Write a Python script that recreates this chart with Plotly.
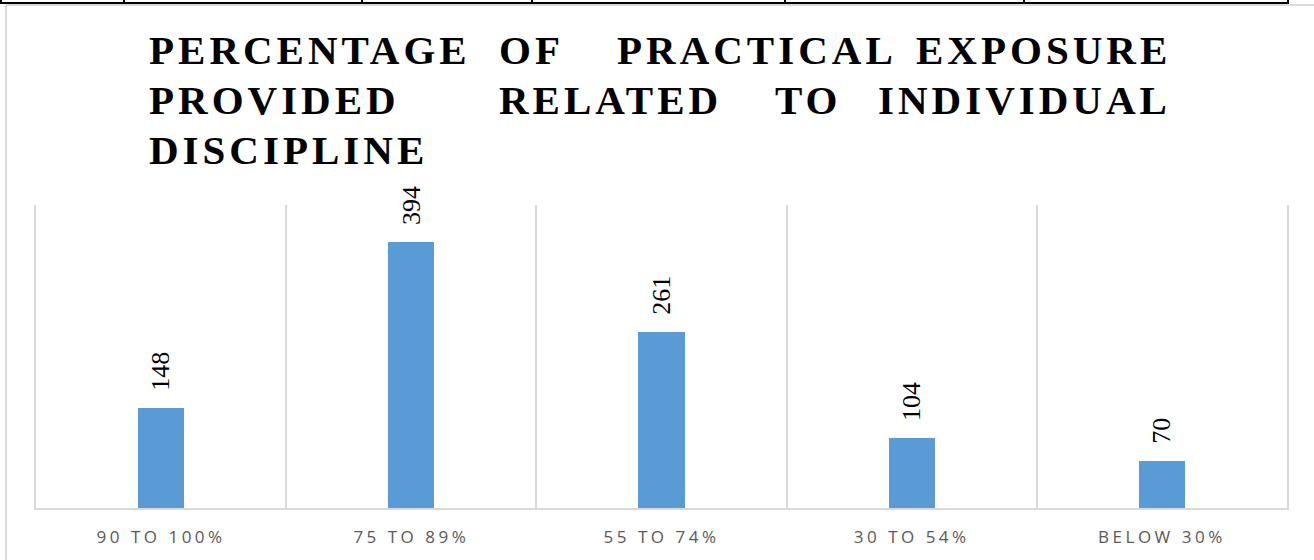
import plotly.graph_objects as go

# ---- data ----
categories = ["90 TO 100%", "75 TO 89%", "55 TO 74%", "30 TO 54%", "BELOW 30%"]
values = [148, 394, 261, 104, 70]
title_lines = [
    ["PERCENTAGE", "OF", "PRACTICAL", "EXPOSURE"],
    ["PROVIDED", "RELATED", "TO", "INDIVIDUAL"],
    ["DISCIPLINE"],
]

# ---- layout constants ----
W, H = 1314, 560
ML, MR, MT, MB = 36, 27, 205, 52
PW, PH = W - ML - MR, H - MT - MB


def px(x):
    return (x - ML) / PW


def py(y):
    return (H - MB - y) / PH


fig = go.Figure()
fig.add_trace(go.Bar(
    x=categories, y=values, width=0.184,
    marker=dict(color="#5b9bd5", line=dict(width=0)),
    hoverinfo="skip",
))

annotations = []
# data labels
for c, v in zip(categories, values):
    annotations.append(dict(
        x=c, y=v, xref="x", yref="y", text=str(v), showarrow=False,
        textangle=-90, yanchor="bottom", xanchor="center", yshift=15,
        font=dict(family="Liberation Serif", size=26, color="#000000"),
    ))

# title: justified words
word_x = [
    [(147, "left"), (497, "left"), (615, "left"), (1173, "right")],
    [(147, "left"), (497, "left"), (773, "left"), (1173, "right")],
    [(147, "left")],
]
line_y = [50, 100, 150]
for words, xs, ly in zip(title_lines, word_x, line_y):
    for w, (xx, anc) in zip(words, xs):
        annotations.append(dict(
            x=px(xx), y=py(ly), xref="paper", yref="paper",
            text='<span style="letter-spacing:4px">' + w + "</span>",
            showarrow=False, xanchor=anc, yanchor="middle",
            font=dict(family="Liberation Serif", size=41, color="#000000", weight="bold"),
        ))

shapes = []
# chart frame (light gray) left and top
shapes.append(dict(type="line", xref="paper", yref="paper", x0=px(6), x1=px(6), y0=py(5), y1=py(H + 5),
                   line=dict(color="#d9d9d9", width=2)))
shapes.append(dict(type="line", xref="paper", yref="paper", x0=px(6), x1=px(W + 5), y0=py(5), y1=py(5),
                   line=dict(color="#d9d9d9", width=2)))
# table border above
shapes.append(dict(type="line", xref="paper", yref="paper", x0=px(0), x1=px(1289), y0=py(3), y1=py(3),
                   line=dict(color="#000000", width=2)))
for vx in [1, 124, 362, 532, 785, 1024, 1288]:
    shapes.append(dict(type="line", xref="paper", yref="paper", x0=px(vx), x1=px(vx), y0=py(-1), y1=py(3),
                       line=dict(color="#000000", width=2)))

fig.update_layout(
    width=W, height=H,
    margin=dict(l=ML, r=MR, t=MT, b=MB, pad=0),
    paper_bgcolor="white", plot_bgcolor="white",
    showlegend=False,
    annotations=annotations,
    shapes=shapes,
    bargap=0,
    xaxis=dict(
        type="category",
        tickvals=categories,
        ticktext=['<span style="letter-spacing:3.5px">' + c + "</span>" for c in categories],
        tickson="boundaries", ticks="",
        showgrid=True, gridcolor="#d9d9d9", gridwidth=2,
        showline=True, linecolor="#d9d9d9", linewidth=2,
        tickfont=dict(family="Open Sans", size=17, color="#595959"),
        ticklabelstandoff=13,
        range=[-0.5, 4.5], fixedrange=True,
    ),
    yaxis=dict(
        range=[0, 449], showgrid=False, zeroline=False, showticklabels=False, ticks="",
        showline=True, mirror=True, linecolor="#d9d9d9", linewidth=2, fixedrange=True,
    ),
)

fig.write_html(
    "out.html",
    config={"displayModeBar": False},
    post_script="document.body.style.margin='0';document.body.style.overflow='hidden';",
)
